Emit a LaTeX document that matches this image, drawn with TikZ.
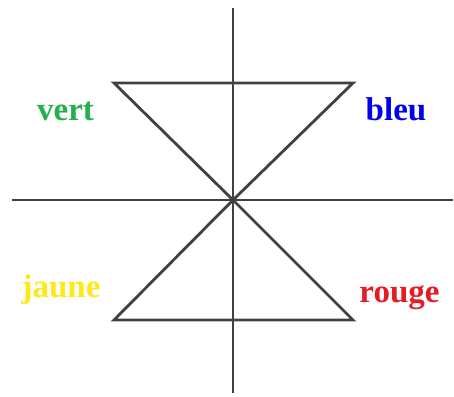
\documentclass[tikz,border=0pt]{standalone}
\usepackage{fontspec}
\setmainfont{Liberation Serif}
\definecolor{linegray}{HTML}{404040}
\definecolor{cvert}{HTML}{22B14C}
\definecolor{cbleu}{HTML}{0000EE}
\definecolor{cjaune}{HTML}{FFE81A}
\definecolor{crouge}{HTML}{E41C24}
\begin{document}
\begin{tikzpicture}[x=1pt,y=-1pt,
  axis/.style={draw=linegray,line width=2.8pt},
  tri/.style={draw=linegray,line width=2.8pt,line join=miter},
  lab/.style={font=\fontsize{33}{33}\selectfont\bfseries,anchor=base,inner sep=0pt}]
\useasboundingbox (0,0) rectangle (454,396);
\coordinate (O) at (233,200);
\coordinate (T) at (233,8);
\coordinate (B) at (233,393);
\coordinate (L) at (12,200);
\coordinate (R) at (453,200);
\coordinate (TL) at (114,83);
\coordinate (TR) at (353,83);
\coordinate (BL) at (114,320);
\coordinate (BR) at (353,320);
\draw[axis] (T) -- (B);
\draw[axis] (L) -- (R);
\draw[tri] (O) -- (TL) -- (TR) -- cycle;
\draw[tri] (O) -- (BL) -- (BR) -- cycle;
\node[lab,text=cvert] (vert) at (65.5,120) {vert};
\node[lab,text=cbleu] (bleu) at (396,120) {bleu};
\node[lab,text=cjaune] (jaune) at (61,297) {jaune};
\node[lab,text=crouge] (rouge) at (399.5,302) {rouge};
\end{tikzpicture}
\end{document}
